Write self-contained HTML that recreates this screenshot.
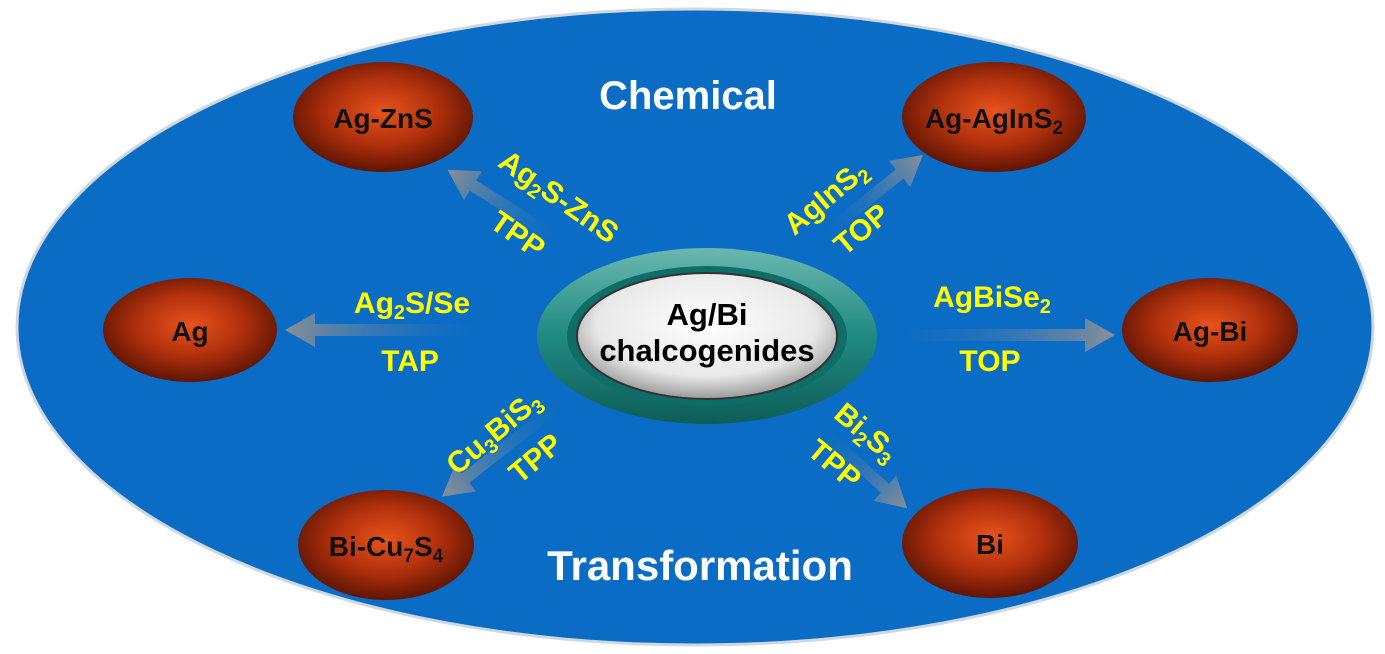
<!DOCTYPE html>
<html><head><style>body{margin:0;background:#fff}svg{display:block}text{font-family:"Liberation Sans",sans-serif;font-weight:bold}</style></head><body>
<svg width="1385" height="654" viewBox="0 0 1385 654">
<defs>
<radialGradient id="r" cx="50%" cy="45%" r="55%"><stop offset="0" stop-color="#e8531c"/><stop offset="0.55" stop-color="#b0300c"/><stop offset="1" stop-color="#5e1504"/></radialGradient>
<radialGradient id="w" cx="50%" cy="40%" r="60%"><stop offset="0" stop-color="#fff"/><stop offset="0.7" stop-color="#e8e8e8"/><stop offset="1" stop-color="#9a9a9a"/></radialGradient>
<linearGradient id="t" x1="0" y1="0" x2="0" y2="1"><stop offset="0" stop-color="#6ab8b0"/><stop offset="0.5" stop-color="#1f8a80"/><stop offset="1" stop-color="#0d5e58"/></linearGradient>
<linearGradient id="g" x1="0" y1="0" x2="1" y2="0"><stop offset="0" stop-color="#0a6cc4" stop-opacity="0"/><stop offset="1" stop-color="#8a8f96"/></linearGradient>
</defs>
<ellipse cx="695" cy="327" rx="678" ry="318" fill="#0a6cc4" stroke="#cfd8e0" stroke-width="3"/>
<g>
<g transform="translate(500,330) rotate(180)"><path d="M0,-6 L185,-6 L185,-17 L215,0 L185,17 L185,6 L0,6Z" fill="url(#g)"/></g>
<g transform="translate(878,335)"><path d="M0,-6 L207,-6 L207,-17 L237,0 L207,17 L207,6 L0,6Z" fill="url(#g)"/></g>
<g transform="translate(568,245) rotate(212)"><path d="M0,-6 L112,-6 L112,-17 L142,0 L112,17 L112,6 L0,6Z" fill="url(#g)"/></g>
<g transform="translate(818,240) rotate(-39)"><path d="M0,-6 L105,-6 L105,-17 L135,0 L105,17 L105,6 L0,6Z" fill="url(#g)"/></g>
<g transform="translate(572,395) rotate(142)"><path d="M0,-6 L135,-6 L135,-17 L165,0 L135,17 L135,6 L0,6Z" fill="url(#g)"/></g>
<g transform="translate(818,428) rotate(42)"><path d="M0,-6 L90,-6 L90,-17 L120,0 L90,17 L90,6 L0,6Z" fill="url(#g)"/></g>
</g>
<ellipse cx="707" cy="336" rx="170" ry="88" fill="url(#t)"/>
<ellipse cx="707" cy="336" rx="140" ry="70" fill="#0e6d66"/>
<ellipse cx="707" cy="336" rx="130" ry="63" fill="url(#w)" stroke="#333" stroke-width="2"/>
<text x="707" y="325" font-size="31" text-anchor="middle" fill="#000">Ag/Bi</text>
<text x="707" y="361" font-size="31" text-anchor="middle" fill="#000">chalcogenides</text>
<g font-size="28" fill="#111" text-anchor="middle">
<ellipse cx="383" cy="117" rx="90" ry="55" fill="url(#r)"/><text x="383" y="128">Ag-ZnS</text>
<ellipse cx="994" cy="117" rx="92" ry="55" fill="url(#r)"/><text x="994" y="128">Ag-AgInS<tspan font-size="19" dy="6">2</tspan></text>
<ellipse cx="190" cy="330" rx="87" ry="52" fill="url(#r)"/><text x="190" y="341">Ag</text>
<ellipse cx="1210" cy="330" rx="88" ry="52" fill="url(#r)"/><text x="1210" y="341">Ag-Bi</text>
<ellipse cx="386" cy="545" rx="88" ry="55" fill="url(#r)"/><text x="386" y="556">Bi-Cu<tspan font-size="19" dy="6">7</tspan><tspan dy="-6">S</tspan><tspan font-size="19" dy="6">4</tspan></text>
<ellipse cx="990" cy="543" rx="88" ry="55" fill="url(#r)"/><text x="990" y="554">Bi</text>
</g>
<text x="688" y="109" font-size="40" fill="#fff" text-anchor="middle">Chemical</text>
<text x="700" y="580" font-size="42" fill="#fff" text-anchor="middle">Transformation</text>
<g font-size="30" fill="#ffff00" text-anchor="middle">
<text transform="translate(553,205) rotate(35)">Ag<tspan font-size="20" dy="6">2</tspan><tspan dy="-6">S-ZnS</tspan></text>
<text transform="translate(512,243) rotate(35)">TPP</text>
<text transform="translate(832,205) rotate(-40)">AgInS<tspan font-size="20" dy="6">2</tspan></text>
<text transform="translate(868,237) rotate(-40)">TOP</text>
<text x="412" y="313">Ag<tspan font-size="20" dy="6">2</tspan><tspan dy="-6">S/Se</tspan></text>
<text x="410" y="371">TAP</text>
<text x="992" y="307">AgBiSe<tspan font-size="20" dy="6">2</tspan></text>
<text x="990" y="371">TOP</text>
<text transform="translate(500,440) rotate(-40)">Cu<tspan font-size="20" dy="6">3</tspan><tspan dy="-6">BiS</tspan><tspan font-size="20" dy="6">3</tspan></text>
<text transform="translate(542,466) rotate(-40)">TPP</text>
<text transform="translate(860,440) rotate(40)">Bi<tspan font-size="20" dy="6">2</tspan><tspan dy="-6">S</tspan><tspan font-size="20" dy="6">3</tspan></text>
<text transform="translate(828,472) rotate(40)">TPP</text>
</g>
</svg>
</body></html>
